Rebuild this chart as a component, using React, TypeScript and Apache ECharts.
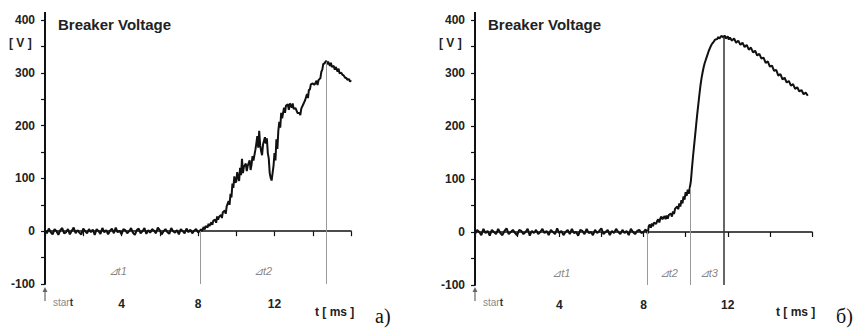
import React, { useEffect, useRef } from "react";
import * as echarts from "echarts";

// ---------- data ----------
const SAMPLE_STEP = 0.1; // ms between recorded samples of the flat segment
const leftFlat = [2, -4, 5, -2, -6, 4, 0, -7, 2, 6, -4, -2, 4, -6, 1, 7, -4, 2, -3, -6, 5, 0, -4, 4, -2, 3, -7, 4, 0, -5, 6, -2, 2, -6, 1, 5, -4, 7, -2, 1, -6, 4, 2, -4, 0, 6, -3, -7, 2, 5, -4, 0, 6, -5, 2, -3, 4, 1, -4, 7, 2, -6, 0, 4, -2, -5, 6, 0, -3, 2, -6, 4, 0, -4, 5, -2, 3, -4, 1, 4, -2];
const leftRise: [number, number][] = [
  [8.1, 0], [8.15, 4], [8.2, 0], [8.3, 8], [8.35, 3], [8.4, 10], [8.5, 7], [8.55, 14], [8.6, 10], [8.7, 17], [8.75, 12], [8.8, 20],
  [8.9, 22], [8.95, 16], [9.0, 28], [9.05, 22], [9.1, 27], [9.2, 31], [9.25, 25], [9.3, 36], [9.4, 39], [9.45, 33], [9.5, 47],
  [9.6, 57], [9.65, 50], [9.7, 71], [9.75, 64], [9.8, 90], [9.85, 82], [9.9, 104], [9.95, 92], [10.0, 94], [10.05, 112],
  [10.1, 102], [10.15, 95], [10.2, 120], [10.25, 106], [10.3, 137], [10.35, 110], [10.4, 122], [10.5, 128], [10.55, 114],
  [10.6, 124], [10.7, 134], [10.75, 116], [10.8, 126], [10.85, 142], [10.9, 134], [11.0, 154], [11.05, 166], [11.1, 180],
  [11.15, 158], [11.2, 190], [11.25, 163], [11.3, 152], [11.35, 144], [11.4, 164], [11.5, 178], [11.55, 166], [11.6, 176],
  [11.65, 148], [11.7, 138], [11.75, 110], [11.8, 101], [11.85, 96], [11.9, 110], [11.95, 124], [12.0, 148], [12.05, 134],
  [12.1, 174], [12.15, 156], [12.2, 190], [12.25, 207], [12.3, 196], [12.35, 224], [12.4, 214], [12.5, 234], [12.55, 224],
  [12.6, 238], [12.7, 240], [12.75, 230], [12.8, 242], [12.9, 234], [12.95, 242], [13.0, 232], [13.1, 233], [13.2, 224],
  [13.3, 224], [13.35, 220], [13.4, 232], [13.5, 240], [13.55, 244], [13.6, 248], [13.7, 260], [13.75, 252], [13.8, 268],
  [13.85, 268], [13.9, 278], [14.0, 280], [14.05, 278], [14.1, 278], [14.2, 285], [14.25, 277], [14.3, 286], [14.4, 290],
  [14.45, 302], [14.5, 306], [14.55, 317], [14.6, 317], [14.7, 323], [14.75, 316], [14.8, 321], [14.9, 313], [14.95, 319],
  [15.0, 311], [15.1, 313], [15.15, 306], [15.2, 311], [15.3, 302], [15.35, 308], [15.4, 299], [15.5, 300], [15.55, 296],
  [15.6, 296], [15.7, 290], [15.75, 291], [15.8, 287], [15.9, 288], [15.95, 283], [16.0, 286],
];
const rightFlat = [-4, 4, 0, -6, 6, -2, 2, -7, 4, 0, -4, 6, -2, -6, 2, 7, -4, 0, 4, -2, -6, 4, 2, -4, 0, 6, -7, 2, -2, 4, -4, 0, 6, -2, 2, -6, 4, 0, -4, 7, -2, 2, -6, 0, 4, -4, 6, -2, 0, -7, 4, 2, -4, 6, -2, 0, -6, 4, -2, 2, 7, -4, 0, 4, -6, 2, -2, 6, 0, -4, 4, -2, 2, -6, 6, 0, -4, 2, 4, -2, 0, 5, -3];
const rightRise: [number, number][] = [
  [8.2, 1], [8.25, 11], [8.3, 14], [8.35, 8], [8.4, 16], [8.45, 11], [8.5, 18], [8.6, 15], [8.65, 21], [8.7, 24], [8.75, 18],
  [8.8, 26], [8.85, 29], [8.9, 24], [9.0, 30], [9.05, 24], [9.1, 31], [9.15, 25], [9.2, 32], [9.3, 35], [9.35, 29], [9.4, 39],
  [9.45, 34], [9.5, 44], [9.6, 48], [9.65, 43], [9.7, 54], [9.75, 48], [9.8, 60], [9.85, 54], [9.9, 67], [9.95, 61], [10.0, 75],
  [10.05, 68], [10.1, 80], [10.15, 72], [10.2, 84], [10.25, 96], [10.3, 120], [10.35, 142], [10.4, 162], [10.45, 182],
  [10.5, 202], [10.55, 222], [10.6, 240], [10.65, 258], [10.7, 275], [10.75, 289], [10.8, 300], [10.85, 310], [10.9, 318],
  [10.95, 324], [11.0, 330], [11.1, 342], [11.2, 351], [11.25, 355], [11.3, 357], [11.4, 363], [11.5, 364], [11.55, 368],
  [11.6, 365], [11.7, 370], [11.8, 367], [11.85, 371], [11.9, 365], [12.0, 369], [12.05, 363], [12.1, 367], [12.2, 361],
  [12.3, 365], [12.4, 357], [12.5, 361], [12.6, 353], [12.7, 357], [12.8, 349], [12.9, 353], [13.0, 344], [13.1, 348],
  [13.2, 339], [13.3, 342], [13.4, 333], [13.5, 336], [13.6, 327], [13.7, 329], [13.8, 319], [13.9, 322], [14.0, 312],
  [14.1, 314], [14.2, 304], [14.3, 306], [14.4, 295], [14.5, 298], [14.6, 288], [14.7, 291], [14.8, 282], [14.9, 285],
  [15.0, 276], [15.1, 279], [15.2, 270], [15.3, 273], [15.4, 265], [15.5, 268], [15.6, 260], [15.7, 263], [15.8, 257],
];
const leftMarkers: [number, number][] = [[8.1, 0], [14.7, 321]];
const rightMarkers: [number, number][] = [[8.2, 1], [10.2, 84], [11.8, 368]];
const leftDeltaLabels: [number, number, string][] = [[3.8, -76, "⊿t1"], [11.4, -76, "⊿t2"]];
const rightDeltaLabels: [number, number, string][] = [[4.1, -78, "⊿t1"], [9.2, -78, "⊿t2"], [11.1, -78, "⊿t3"]];
const yTicks = [-100, 0, 100, 200, 300, 400];
const xTickLabels = [4, 8, 12];
const titleText = "Breaker Voltage";
const yUnit = "[ V ]";
const xUnit = "t [ ms ]";
const panelTags = ["a)", "б)"];

const FONT = "'Liberation Sans', Arial, sans-serif";

function buildTrace(flat: number[], rise: [number, number][]): [number, number][] {
  const pts: [number, number][] = flat.map((v, i) => [Math.round(i * SAMPLE_STEP * 100) / 100, v]);
  const lastT = pts[pts.length - 1][0];
  return pts.concat(rise.filter((p) => p[0] > lastT));
}

function App() {
  const ref = useRef<HTMLDivElement>(null);
  useEffect(() => {
    if (!ref.current) return;
    const chart = echarts.init(ref.current, undefined, { renderer: "svg" });
    const grids = [
      { left: 45, top: 20, width: 306, height: 264 },
      { left: 475, top: 20, width: 337, height: 265 },
    ];
    const mkX = (gi: number) => ({
      type: "value",
      gridIndex: gi,
      min: 0,
      max: 16,
      interval: 2,
      axisLine: { lineStyle: { color: "#111", width: 1.5 } },
      axisTick: { show: true, length: 5, lineStyle: { color: "#111", width: 1.2 } },
      splitLine: { show: false },
      axisLabel: {
        margin: 14,
        fontFamily: FONT,
        fontWeight: "bold",
        fontSize: 12,
        color: "#222",
        formatter: (v: number) => (xTickLabels.includes(v) ? String(v) : ""),
      },
    });
    const mkY = (gi: number) => ({
      type: "value",
      gridIndex: gi,
      min: -100,
      max: 400,
      interval: 50,
      axisLine: { show: true, lineStyle: { color: "#111", width: 2 } },
      axisTick: { show: true, length: 4, lineStyle: { color: "#111", width: 1.2 } },
      splitLine: { show: false },
      axisLabel: {
        margin: 10,
        fontFamily: FONT,
        fontWeight: "bold",
        fontSize: 12,
        color: "#222",
        formatter: (v: number) => (yTicks.includes(v) ? String(v) : ""),
      },
    });
    const markerSeries = (gi: number, markers: [number, number][], darkLast: boolean) => ({
      type: "line",
      xAxisIndex: gi,
      yAxisIndex: gi,
      data: [],
      silent: true,
      markLine: {
        symbol: "none",
        label: { show: false },
        data: markers.map((m, i) => [
          {
            coord: [m[0], -100],
            lineStyle: {
              color: darkLast && i === markers.length - 1 ? "#333" : "#999",
              width: darkLast && i === markers.length - 1 ? 1.5 : 1,
              type: "solid",
            },
          },
          { coord: [m[0], m[1]] },
        ]),
      },
    });
    const labelSeries = (gi: number, labels: [number, number, string][]) => ({
      type: "scatter",
      xAxisIndex: gi,
      yAxisIndex: gi,
      symbolSize: 0,
      silent: true,
      data: labels.map((l) => ({ value: [l[0], l[1]], name: l[2] })),
      label: {
        show: true,
        position: "inside",
        formatter: (p: any) => p.name,
        fontFamily: FONT,
        fontSize: 11,
        fontStyle: "italic",
        color: "#666",
      },
    });
    const traceSeries = (gi: number, data: [number, number][]) => ({
      type: "line",
      xAxisIndex: gi,
      yAxisIndex: gi,
      data,
      showSymbol: false,
      symbol: "none",
      lineStyle: { color: "#111", width: 2 },
      silent: true,
    });

    const textStyleBold = { fontFamily: FONT, fontWeight: "bold", fontSize: 12, fill: "#222" };
    const graphic: any[] = [];
    grids.forEach((g, i) => {
      // axis extension above 400
      graphic.push({ type: "line", shape: { x1: g.left, y1: 12, x2: g.left, y2: g.top }, style: { stroke: "#111", lineWidth: 2 } });
      graphic.push({ type: "text", x: g.left - 36, y: 37, style: { text: yUnit, ...textStyleBold } });
      graphic.push({ type: "text", x: g.left + g.width - 36, y: 306, style: { text: xUnit, ...textStyleBold } });
      graphic.push({
        type: "text",
        x: g.left + g.width + 24,
        y: 306,
        style: { text: panelTags[i], fontFamily: "'Liberation Serif', 'Times New Roman', serif", fontSize: 20, fill: "#111" },
      });
      // start arrow
      graphic.push({ type: "line", shape: { x1: g.left, y1: 301, x2: g.left, y2: 290 }, style: { stroke: "#666", lineWidth: 1.2 } });
      graphic.push({
        type: "polygon",
        shape: { points: [[g.left - 2.5, 292], [g.left + 2.5, 292], [g.left, 287]] },
        style: { fill: "#666" },
      });
      graphic.push({
        type: "text",
        x: g.left + 8,
        y: 297,
        style: {
          text: "{a|star}{b|t}",
          rich: {
            a: { fontFamily: FONT, fontSize: 10, fill: "#888" },
            b: { fontFamily: FONT, fontSize: 10, fontWeight: "bold", fill: "#333" },
          },
        },
      });
    });

    chart.setOption({
      animation: false,
      backgroundColor: "#fff",
      title: grids.map((g) => ({
        text: titleText,
        left: g.left + 8,
        top: 12,
        textStyle: { fontFamily: FONT, fontWeight: "bold", fontSize: 15, color: "#222" },
      })),
      grid: grids,
      xAxis: [mkX(0), mkX(1)],
      yAxis: [mkY(0), mkY(1)],
      series: [
        markerSeries(0, leftMarkers, false),
        markerSeries(1, rightMarkers, true),
        traceSeries(0, buildTrace(leftFlat, leftRise)),
        traceSeries(1, buildTrace(rightFlat, rightRise)),
        labelSeries(0, leftDeltaLabels),
        labelSeries(1, rightDeltaLabels),
      ],
      graphic,
    });
    return () => chart.dispose();
  }, []);
  return <div ref={ref} style={{ position: "fixed", left: 0, top: 0, width: 861, height: 329, background: "#fff" }} />;
}

export default App;
